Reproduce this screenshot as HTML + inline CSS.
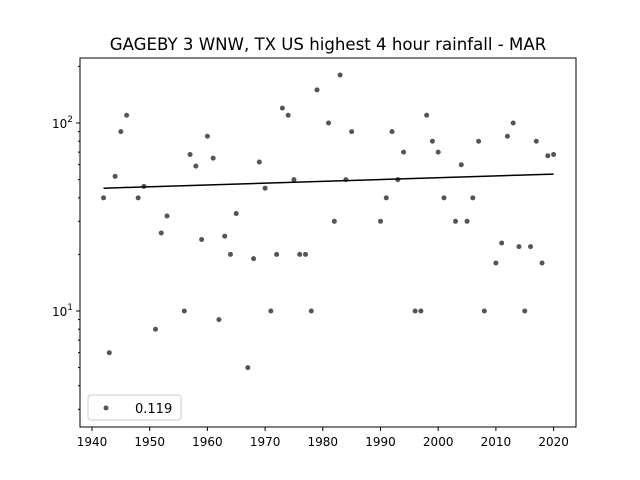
<!DOCTYPE html>
<html><head><meta charset="utf-8"><style>
body{margin:0;background:#fff}svg{display:block;font-family:"DejaVu Sans","Liberation Sans",sans-serif}
</style></head><body>
<svg id="c" width="640" height="480">
<text x="328" y="50" font-size="16.6" text-anchor="middle">GAGEBY 3 WNW, TX US highest 4 hour rainfall - MAR</text>
<rect x="80" y="58" width="496" height="369" fill="none" stroke="#000" stroke-width="1"/>
<g id="g"></g>
<g>
<rect x="88" y="395" width="93" height="25" rx="3" fill="#fff" stroke="#ccc"/>
<circle cx="106" cy="408" r="2.5" fill="#555"/>
<text x="135" y="413" font-size="13">0.119</text>
</g>
</svg>
<script>
const years=[1942,1943,1944,1945,1946,1948,1949,1951,1952,1953,1956,1957,1958,1959,1960,1961,1962,1963,1964,1965,1967,1968,1969,1970,1971,1972,1973,1974,1975,1976,1977,1978,1979,1981,1982,1983,1984,1985,1990,1991,1992,1993,1994,1996,1997,1998,1999,2000,2001,2003,2004,2005,2006,2007,2008,2010,2011,2012,2013,2014,2015,2016,2017,2018,2019,2020];
const values=[40,6,52,90,110,40,46,8,26,32,10,68,59,24,85,65,9,25,20,33,5,19,62,45,10,20,120,110,50,20,20,10,150,100,30,180,50,90,30,40,90,50,70,10,10,110,80,70,40,30,60,30,40,80,10,18,23,85,100,22,10,22,80,18,67,68];
const trendYears=[1942,2020];
const trendValues=[45,53.5];
const xTicks=[1940,1950,1960,1970,1980,1990,2000,2010,2020];
const yMajor=[10,100];
const yMinor=[3,4,5,6,7,8,9,20,30,40,50,60,70,80,90,200];
const X=y=>92+5.77*(y-1940);
const Y=v=>311-188*Math.log10(v/10);
const ns="http://www.w3.org/2000/svg",g=document.getElementById('g');
function mk(t,a){const e=document.createElementNS(ns,t);for(const k in a)e.setAttribute(k,a[k]);g.appendChild(e);return e;}
xTicks.forEach(t=>{
 const l=mk('line',{x1:X(t),x2:X(t),y1:427,y2:431,stroke:'#000'});
 
 
 const s=mk('text',{x:X(t),y:446,'font-size':12,'text-anchor':'middle'});s.textContent=t;
 
 
});
yMajor.forEach(v=>{
 const l=mk('line',{x1:76,x2:80,y1:Y(v),y2:Y(v),stroke:'#000'});
 
 
 const s=mk('text',{x:73,y:Y(v)+5,'font-size':12,'text-anchor':'end'});
 s.innerHTML='10<tspan dy="-6" font-size="9">'+Math.round(Math.log10(v))+'</tspan>';
 
 
});
yMinor.forEach(v=>{
 const l=mk('line',{x1:78,x2:80,y1:Y(v),y2:Y(v),stroke:'#000'});
 
 
});
years.forEach((yr,i)=>{
 const c=mk('circle',{cx:X(yr),cy:Y(values[i]),r:2.5,fill:'#555'});
 
 
});
const tl=mk('line',{x1:X(trendYears[0]),y1:Y(trendValues[0]),x2:X(trendYears[1]),y2:Y(trendValues[1]),stroke:'#000','stroke-width':1.5});


</script>
</body></html>
